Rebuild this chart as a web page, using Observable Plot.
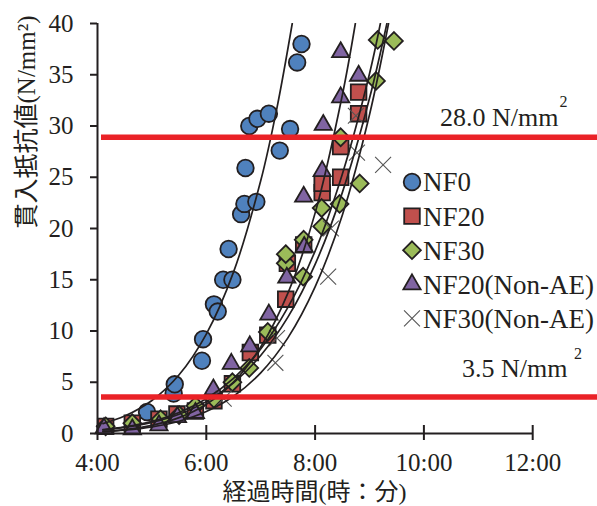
<!DOCTYPE html>
<html><head><meta charset="utf-8">
<script src="https://cdn.jsdelivr.net/npm/d3@7"></script>
<script src="https://cdn.jsdelivr.net/npm/@observablehq/plot@0.6"></script>
<style>
body{margin:0;background:#fff;}
#chart{position:relative;width:597px;height:506px;}
#chart svg, #chart svg text{font-family:'Liberation Serif','Times New Roman','DejaVu Serif','Noto Sans CJK JP',serif !important;}
</style></head><body><div id="chart"></div>
<script>
// ---- data (hours since mixing, N/mm2) ----
const xTicks = [4, 6, 8, 10, 12];
const yTicks = [0, 5, 10, 15, 20, 25, 30, 35, 40];
const seriesNames = ["NF0", "NF20", "NF30", "NF20(Non-AE)", "NF30(Non-AE)"];

const nf0 = [[4.91,2.1],[5.40,3.9],[5.42,4.8],[5.92,7.1],[5.94,9.2],[6.14,12.6],[6.21,11.9],[6.31,15.0],[6.48,15.0],[6.41,18.0],[6.64,21.4],[6.70,22.4],[6.92,22.6],[6.72,25.9],[6.79,30.0],[6.94,30.7],[7.15,31.2],[7.35,27.6],[7.54,29.7],[7.67,36.2],[7.75,38.0]];
const nf20 = [[4.15,0.7],[4.64,1.0],[5.13,1.4],[5.46,1.9],[5.80,2.2],[6.14,3.2],[6.48,4.85],[6.81,7.9],[7.13,9.6],[7.46,13.1],[7.49,16.6],[7.79,18.4],[8.13,23.5],[8.13,24.4],[8.47,25.0],[8.47,28.0],[8.80,31.2],[8.80,33.3]];
const nf30 = [[4.15,0.7],[4.64,1.0],[5.16,1.4],[5.50,1.8],[5.80,2.7],[6.14,3.4],[6.48,5.0],[6.79,6.4],[7.13,9.9],[7.46,16.6],[7.46,17.5],[7.78,15.3],[7.79,18.9],[8.13,20.2],[8.12,22.0],[8.45,22.4],[8.82,24.4],[8.47,28.9],[9.12,34.4],[9.15,38.4],[9.45,38.3]];
const nf20NonAE = [[4.12,0.5],[4.64,0.4],[5.13,0.8],[5.47,1.6],[5.80,2.0],[6.13,4.3],[6.46,6.8],[6.80,8.5],[7.15,11.6],[7.48,15.2],[7.80,18.2],[7.79,23.1],[8.13,25.6],[8.15,30.1],[8.47,32.8],[8.47,37.2],[8.80,34.9]];
const nf30NonAE = [[6.32,3.4],[7.27,6.9],[7.30,9.3],[8.24,15.3],[8.29,20.0],[8.77,27.4],[8.75,31.0],[9.25,26.2]];

// trend curves
const fitNF0 = [[4.1,0.97],[4.5,1.70],[5.0,3.22],[5.5,5.73],[6.0,9.70],[6.5,15.74],[7.0,24.65],[7.3,31.8],[7.58,40]];
const fitNF20 = [[4.1,0.38],[4.5,0.64],[5.0,1.18],[5.5,2.05],[6.0,3.39],[6.5,5.37],[7.0,8.24],[7.5,12.3],[8.0,17.8],[8.5,25.3],[9.0,35.1],[9.2,40]];
const fitNF30 = [[4.1,0.34],[4.5,0.59],[5.0,1.08],[5.5,1.88],[6.0,3.11],[6.5,4.95],[7.0,7.61],[7.5,11.35],[8.0,16.5],[8.5,23.5],[9.0,32.7],[9.32,40]];
const fitNF20NonAE = [[4.1,0.20],[4.5,0.38],[5.0,0.80],[5.5,1.55],[6.0,2.86],[6.5,5.02],[7.0,8.44],[7.5,13.7],[8.0,21.5],[8.5,33.0],[8.74,40]];
const fitNF30NonAE = [[4.1,0.17],[4.5,0.32],[5.0,0.64],[5.5,1.20],[6.0,2.14],[6.5,3.63],[7.0,5.92],[7.5,9.33],[8.0,14.3],[8.5,21.3],[9.0,31.1],[9.35,40]];

const thresholdLines = [28.9, 3.55];
const thresholdLabels = ["28.0 N/mm", "3.5 N/mm"];
const yLabel = "貫入抵抗値(N/mm²)";
const xLabel = "経過時間(時：分)";

// ---- styles ----
const INK = "#231f20";
const RED = "#ea2227";
const FONT = "'Liberation Serif','Times New Roman','DejaVu Serif','Noto Sans CJK JP',serif";
const styles = [
  {symbol: "circle",   r: 8.3, fill: "#4f81bd", stroke: INK, strokeWidth: 1.8},
  {symbol: "square",   r: 8.8, fill: "#c0504d", stroke: INK, strokeWidth: 1.8},
  {symbol: "diamond2", r: 8.0, fill: "#9bbb59", stroke: INK, strokeWidth: 1.8},
  {symbol: "triangle", r: 6.4, fill: "#8064a2", stroke: INK, strokeWidth: 1.8},
  {symbol: "times",    r: 7.3, fill: "none",    stroke: "#555", strokeWidth: 1.1}
];
const seriesData = [nf0, nf20, nf30, nf20NonAE, nf30NonAE];
const fits = [fitNF0, fitNF20, fitNF30, fitNF20NonAE, fitNF30NonAE];

const W = 597, H = 506, ML = 97, MT = 23, MB = 73;
const pxPerHour = 54.4;

const plot = Plot.plot({
  width: W, height: H,
  marginLeft: ML, marginRight: 0, marginTop: MT, marginBottom: MB,
  x: {domain: [xTicks[0], xTicks[0] + (W - ML) / pxPerHour]},
  y: {domain: [yTicks[0], yTicks[yTicks.length - 1]]},
  style: {fontFamily: FONT, fontSize: "25px", color: INK, background: "#fff"},
  marks: [
    ...seriesData.map((s, i) => Plot.dot(s, {x: d => d[0], y: d => d[1], ...styles[i]})),
    ...fits.map(f => Plot.line(f, {x: d => d[0], y: d => d[1], curve: "catmull-rom", stroke: INK, strokeWidth: 1.7, clip: true})),
    // axes
    Plot.ruleX([xTicks[0]], {stroke: INK, strokeWidth: 2}),
    Plot.ruleY([yTicks[0]], {x1: xTicks[0], x2: xTicks[xTicks.length - 1], stroke: INK, strokeWidth: 2}),
    Plot.axisY({ticks: yTicks, tickSize: 7, tickPadding: 17, label: null, strokeWidth: 2, stroke: INK, fill: INK, fontSize: 25}),
    Plot.axisX({ticks: xTicks, tickSize: 7, tickPadding: 13, label: null, tickFormat: d => `${d}:00`, strokeWidth: 2, stroke: INK, fill: INK, fontSize: 25}),
    Plot.axisX({ticks: xTicks, tickSize: -8, label: null, tickFormat: () => "", strokeWidth: 2, stroke: INK}),
    // threshold lines & labels
    Plot.ruleY(thresholdLines, {stroke: RED, strokeWidth: 5.5, insetLeft: 4}),
    Plot.text([0], {y: () => thresholdLines[0], text: () => thresholdLabels[0], frameAnchor: "right", textAnchor: "end", lineAnchor: "bottom", dx: -39, dy: -11, fontSize: 26, fill: INK}),
    Plot.text([0], {y: () => thresholdLines[0], text: () => "2", frameAnchor: "right", textAnchor: "middle", dx: -34, dy: -35, fontSize: 16, fill: INK}),
    Plot.text([0], {y: () => thresholdLines[1], text: () => thresholdLabels[1], frameAnchor: "right", textAnchor: "end", lineAnchor: "bottom", dx: -30, dy: -20, fontSize: 26, fill: INK}),
    Plot.text([0], {y: () => thresholdLines[1], text: () => "2", frameAnchor: "right", textAnchor: "middle", dx: -19.5, dy: -43, fontSize: 16, fill: INK}),
    // axis titles
    Plot.text([yLabel], {frameAnchor: "left", rotate: -90, dx: -71, fontSize: 25, fill: INK}),
    Plot.text([xLabel], {frameAnchor: "bottom", dx: -33, dy: 66, fontSize: 24, fill: INK})
  ]
});
document.getElementById("chart").appendChild(plot);

// ---- legend (inside the plot area) ----
const svg = d3.select(plot);
const symMap = {circle: d3.symbolCircle, square: d3.symbolSquare, diamond2: d3.symbolDiamond2, triangle: d3.symbolTriangle, times: d3.symbolTimes};
const lg = svg.append("g").attr("transform", "translate(412,182)");
seriesNames.forEach((name, i) => {
  const st = styles[i];
  const g = lg.append("g").attr("transform", `translate(0,${i * 34.1})`);
  g.append("path")
    .attr("d", d3.symbol(symMap[st.symbol], Math.PI * st.r * st.r)())
    .attr("fill", st.fill).attr("stroke", st.stroke).attr("stroke-width", st.strokeWidth);
  g.append("text").attr("x", 11).attr("dy", "0.35em")
    .attr("text-anchor", "start")
    .attr("font-family", FONT)
    .attr("font-size", 27).attr("fill", INK).text(name);
});
</script>
</body></html>
